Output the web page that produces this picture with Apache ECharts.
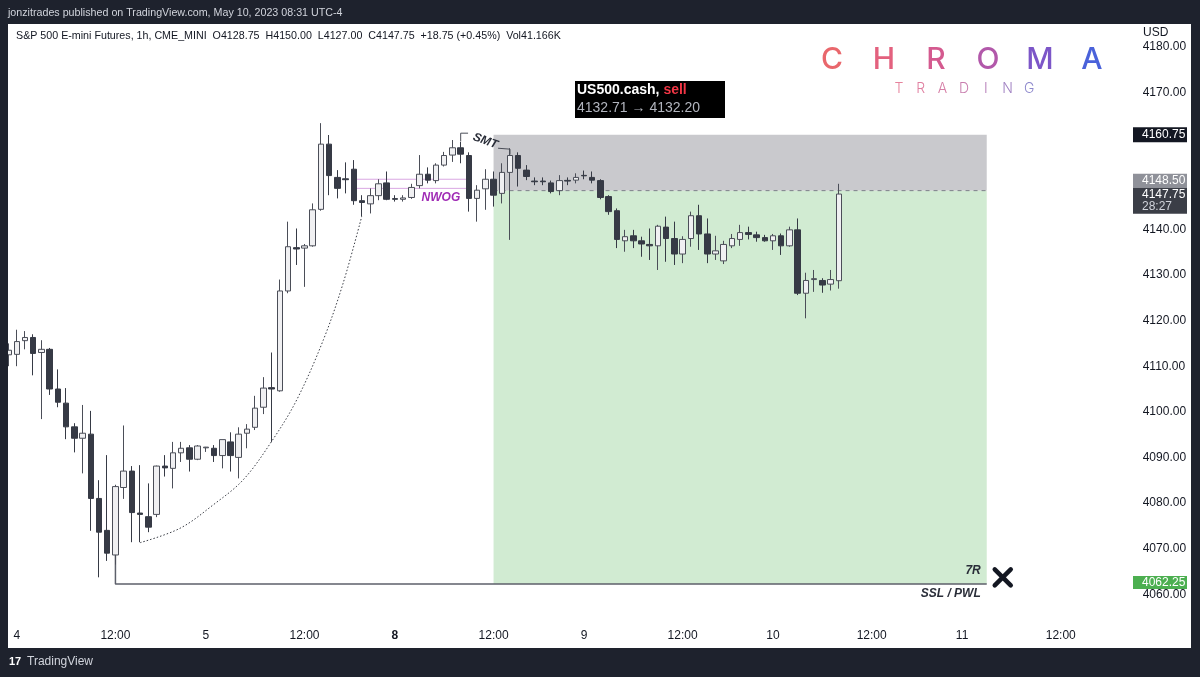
<!DOCTYPE html>
<html><head><meta charset="utf-8">
<script src="https://cdn.jsdelivr.net/npm/echarts@6/dist/echarts.min.js"></script>
<style>html,body{margin:0;padding:0;background:#1e222d;}#c{width:1200px;height:677px;}</style>
</head><body><div id="c"></div>
<script>
// ---- data (bar index = hourly trading bar counted from May 4 00:00) ----
const barIndex = [-1,0,1,2,3,4,5,6,7,8,9,10,11,12,13,14,15,16,17,18,19,20,21,22,23,24,25,26,27,28,29,30,31,32,33,34,35,36,37,38,39,40,41,42,43,44,45,46,47,48,49,50,51,52,53,54,55,56,57,58,59,60,61,62,63,64,65,66,67,68,69,70,71,72,73,74,75,76,77,78,79,80,81,82,83,84,85,86,87,88,89,90,91,92,93,94,95,96,97,98,99,100];
const opens  = [4112.5,4112.6,4115.6,4116.3,4113.0,4113.7,4105.0,4101.9,4096.7,4094.2,4095.1,4081.0,4074.0,4068.6,4083.4,4087.0,4077.8,4077.0,4077.5,4088.1,4087.6,4091.0,4092.1,4089.6,4092.1,4092.0,4090.4,4093.4,4090.0,4095.3,4096.6,4101.0,4105.3,4104.6,4126.5,4136.0,4135.9,4136.4,4144.4,4158.7,4151.4,4151.1,4153.2,4146.3,4145.6,4147.4,4150.2,4146.75,4146.6,4147.0,4149.6,4152.1,4150.7,4154.1,4156.3,4157.9,4156.2,4146.8,4148.9,4151.0,4147.9,4152.5,4156.2,4153.0,4150.6,4150.6,4150.2,4148.5,4150.75,4150.8,4151.85,4151.4,4150.7,4147.2,4144.1,4137.5,4138.6,4137.5,4136.7,4136.4,4140.5,4138.0,4134.6,4138.0,4143.0,4139.0,4134.6,4133.1,4136.4,4137.8,4139.3,4138.8,4138.2,4137.5,4138.6,4136.4,4139.9,4126.0,4129.0,4128.8,4128.0,4128.75];
const closes = [4113.5,4115.4,4116.3,4112.8,4113.7,4105.0,4102.1,4096.7,4094.2,4095.3,4081.0,4073.6,4069.0,4083.6,4087.0,4077.9,4077.5,4074.7,4088.1,4087.7,4091.0,4092.0,4089.6,4092.5,4092.25,4090.4,4093.9,4090.4,4095.1,4096.2,4100.8,4105.2,4105.0,4126.5,4136.2,4135.7,4136.4,4144.3,4158.7,4151.8,4149.0,4150.9,4146.3,4145.9,4147.4,4150.0,4146.6,4146.6,4146.9,4149.2,4152.1,4150.8,4154.1,4156.2,4157.9,4156.5,4146.8,4148.6,4151.0,4147.5,4152.5,4156.2,4153.4,4151.6,4150.45,4150.45,4148.3,4150.7,4150.6,4151.4,4151.75,4150.8,4147.0,4143.9,4137.8,4138.4,4137.5,4136.8,4136.4,4140.7,4138.0,4134.6,4137.8,4143.0,4139.0,4134.6,4135.3,4136.7,4138.0,4139.3,4138.9,4138.2,4137.5,4138.6,4136.4,4139.9,4126.0,4128.8,4129.2,4127.8,4129.0,4147.75];
const lows   = [4110.0,4110.0,4113.7,4108.0,4098.4,4103.7,4101.0,4094.0,4091.1,4086.5,4073.9,4063.7,4067.3,4066.5,4080.9,4071.4,4071.4,4073.6,4076.9,4085.8,4083.2,4089.0,4086.9,4089.4,4091.2,4089.0,4087.6,4086.9,4085.4,4092.0,4096.0,4099.5,4093.4,4104.4,4126.0,4132.2,4127.4,4136.2,4144.1,4147.5,4146.8,4147.9,4145.4,4142.8,4143.5,4146.4,4146.4,4146.1,4146.1,4146.7,4149.0,4150.1,4150.1,4153.8,4154.8,4154.5,4143.9,4141.7,4144.3,4145.0,4145.7,4137.7,4149.4,4150.8,4149.7,4149.7,4147.9,4147.5,4149.7,4150.1,4151.0,4150.1,4146.6,4143.2,4135.9,4135.1,4135.9,4134.0,4133.3,4131.1,4132.9,4132.2,4132.6,4136.2,4135.5,4132.6,4133.3,4132.4,4135.9,4136.4,4137.8,4137.3,4137.3,4135.5,4134.4,4136.2,4125.6,4120.5,4126.3,4126.1,4126.6,4127.0];
const highs  = [4115.0,4118.0,4117.7,4117.0,4115.7,4114.0,4109.3,4105.2,4097.5,4101.5,4100.2,4085.0,4090.5,4084.0,4097.0,4088.1,4088.3,4084.3,4088.2,4090.5,4093.4,4093.4,4092.7,4092.7,4092.3,4092.7,4093.9,4095.5,4096.6,4097.3,4103.5,4107.6,4113.0,4129.0,4141.7,4140.2,4136.8,4145.7,4163.3,4160.7,4153.0,4154.7,4155.2,4147.5,4149.0,4151.0,4152.7,4147.5,4147.5,4150.0,4156.3,4153.6,4154.5,4157.0,4159.6,4159.2,4156.9,4149.7,4153.2,4152.7,4154.5,4157.8,4156.9,4154.1,4151.4,4151.4,4150.7,4151.9,4151.4,4152.3,4152.9,4152.7,4151.0,4147.5,4144.6,4139.9,4139.9,4138.4,4140.2,4141.0,4142.8,4141.7,4138.5,4143.9,4145.4,4142.4,4138.6,4137.5,4139.0,4141.0,4140.6,4139.5,4138.8,4139.0,4139.1,4140.6,4142.4,4130.5,4131.1,4129.3,4131.1,4150.0];

// time axis ticks
const timeTickIdx    = [0, 12, 23, 35, 46, 58, 69, 81, 92, 104, 115, 127];
const timeTickLabels = ['4','12:00','5','12:00','8','12:00','9','12:00','10','12:00','11','12:00'];
const boldTicks = ['8'];
// price axis ticks (4150 / 4160 are hidden behind the price tags)
const priceTicks = [4060,4070,4080,4090,4100,4110,4120,4130,4140,4170,4180];

// position tool (short)
const zoneStart = 58, zoneEnd = 118;
const stopPrice = 4160.75, entryPrice = 4148.50, targetPrice = 4062.25;
const lastPrice = 4147.75;
// SSL / PWL line
const sslStartIdx = 12, sslAnchorPrice = 4068.6;
// NWOG lines
const nwogStart = 41, nwogEnd = 55;
const nwogPrices = [4151.0, 4149.0];
// SMT brackets
const smtLeft  = [[54, 4159.3], [54, 4161.1], [54.9, 4161.1]];
const smtRight = [[58.55, 4157.8], [60, 4157.6], [60, 4156.4]];
// dotted curve
const curveX = [15, 19.85, 23.9, 27.55, 31, 34.05, 37.3, 39.7, 41.96];
const curveY = [4071.3, 4074.45, 4079.6, 4085.1, 4093.5, 4102.6, 4115.8, 4128.2, 4142.8];

// ---- chart ----
const FONT = '"Liberation Sans", Arial, Helvetica, sans-serif';
const INK = '#131722';
const chart = echarts.init(document.getElementById('c'));

const candleData = barIndex.map((k, i) => [k, opens[i], closes[i], lows[i], highs[i]]);
const tickMap = {};
timeTickIdx.forEach((k, i) => { tickMap[k] = timeTickLabels[i]; });

function lineSeries(data, style, z) {
  return { type: 'line', data: data, symbol: 'none', silent: true, z: z || 4, lineStyle: style, animation: false };
}

const option = {
  backgroundColor: '#1e222d',
  animation: false,
  grid: { left: 7.76, right: 65.3, top: 24.2, bottom: 60 },
  xAxis: {
    type: 'value', min: -1.1, max: 136,
    axisLine: { show: false }, axisTick: { show: false }, splitLine: { show: false },
    axisLabel: {
      customValues: timeTickIdx, margin: 13, color: INK, fontSize: 12, fontFamily: FONT,
      formatter: v => { const t = tickMap[v]; return boldTicks.indexOf(t) >= 0 ? '{b|' + t + '}' : t; },
      rich: { b: { fontWeight: 'bold', fontSize: 12, color: INK, fontFamily: FONT } }
    }
  },
  yAxis: {
    type: 'value', position: 'right', min: 4055, max: 4185,
    axisLine: { show: false }, axisTick: { show: false }, splitLine: { show: false },
    axisLabel: {
      customValues: priceTicks, margin: 8, fontSize: 12, fontFamily: FONT,
      color: v => (v === 4180 ? '#a3a6af' : INK),
      formatter: v => v.toFixed(2)
    }
  },
  series: [
    {
      type: 'line', data: [[zoneStart, entryPrice]], symbol: 'none', silent: true, z: 1,
      lineStyle: { opacity: 0 },
      markArea: {
        silent: true,
        data: [
          [{ coord: [zoneStart, stopPrice], itemStyle: { color: '#c9c9cd', opacity: 1 } }, { coord: [zoneEnd, entryPrice] }],
          [{ coord: [zoneStart, entryPrice], itemStyle: { color: '#d1ebd2', opacity: 1 } }, { coord: [zoneEnd, targetPrice] }]
        ]
      }
    },
    lineSeries([[zoneStart, entryPrice], [zoneEnd, entryPrice]], { color: '#7c7f88', width: 1, type: [4, 4] }, 2),
    lineSeries([[sslStartIdx, sslAnchorPrice], [sslStartIdx, targetPrice], [zoneEnd, targetPrice]], { color: '#5d606b', width: 1.5 }, 2),
    lineSeries([[nwogStart, nwogPrices[0]], [nwogEnd, nwogPrices[0]]], { color: '#d9a6e2', width: 1 }, 2),
    lineSeries([[nwogStart, nwogPrices[1]], [nwogEnd, nwogPrices[1]]], { color: '#d9a6e2', width: 1 }, 2),
    {
      type: 'candlestick', data: candleData, encode: { x: 0, y: [1, 2, 3, 4] }, barWidth: 6, z: 3, silent: true,
      itemStyle: { color: '#f0f0f2', color0: '#363a45', borderColor: '#4b4e58', borderColor0: '#363a45', borderWidth: 1 }
    },
    lineSeries(smtLeft, { color: '#4b4e58', width: 1 }, 4),
    lineSeries(smtRight, { color: '#4b4e58', width: 1 }, 4),
    Object.assign(lineSeries(curveX.map((x, i) => [x, curveY[i]]), { color: '#3a3d45', width: 1, type: [1.5, 2] }, 4), { smooth: 0.35 })
  ]
};
chart.setOption(option);

function px(k, p) { return chart.convertToPixel({ gridIndex: 0 }, [k, p]); }
const g = [];
// panels
g.push({ type: 'rect', z: -10, silent: true, shape: { x: 8, y: 24, width: 1183, height: 624 }, style: { fill: '#ffffff' } });
g.push({ type: 'rect', z: 100, silent: true, shape: { x: 0, y: 24, width: 8, height: 624 }, style: { fill: '#1e222d' } });
function txt(x, y, text, font, fill, align, extra) {
  return Object.assign({ type: 'text', z: 101, silent: true, x: x, y: y,
    style: { text: text, font: font, fill: fill, align: align || 'left', textAlign: align || 'left', verticalAlign: 'middle', textVerticalAlign: 'middle' } }, extra || {});
}
// header texts
g.push(txt(8, 13, 'jonzitrades published on TradingView.com, May 10, 2023 08:31 UTC-4', '10.7px ' + FONT, '#d1d4dc'));
g.push(txt(16, 36, 'S&P 500 E-mini Futures, 1h, CME_MINI  O4128.75  H4150.00  L4127.00  C4147.75  +18.75 (+0.45%)  Vol41.166K', '10.7px ' + FONT, INK));
// bottom logo
g.push(txt(9, 662, '17', 'bold 11px ' + FONT, '#ffffff'));
g.push(txt(27, 662, 'TradingView', '12px ' + FONT, '#d1d4dc'));
// CHROMA logo
const chromaLetters = ['C','H','R','O','M','A'];
const chromaColors = ['#e9676c','#e3617e','#d45a8f','#b258aa','#7c56c8','#4a62da'];
chromaLetters.forEach((c, i) => g.push(txt(832 + 52 * i, 60, c, '500 30px Inter, ' + FONT, chromaColors[i], 'center')));
const tradingLetters = ['T','R','A','D','I','N','G'];
const tradingColors = ['#e6829c','#e07fa0','#d67ea6','#c87dae','#b67eb8','#a081c2','#8c87cc'];
tradingLetters.forEach((c, i) => g.push(txt(899 + 21.7 * i, 89, c, '300 14px Inter, ' + FONT, tradingColors[i], 'center')));
// US500 box
g.push({ type: 'rect', z: 100, silent: true, shape: { x: 575, y: 81, width: 150, height: 37 }, style: { fill: '#000000' } });
g.push({ type: 'text', z: 101, silent: true, x: 577, y: 90,
  style: { text: '{a|US500.cash, }{b|sell}', verticalAlign: 'middle', textVerticalAlign: 'middle',
    rich: { a: { fill: '#ffffff', font: 'bold 14px "Liberation Sans Narrow", ' + FONT },
            b: { fill: '#f23645', font: 'bold 14px "Liberation Sans Narrow", ' + FONT } } } });
g.push(txt(577, 108, '4132.71 \u2192 4132.20', '14px ' + FONT, '#b2b5be'));
// price scale extras
g.push(txt(1143, 33, 'USD', '12px ' + FONT, INK));
const ax = 1133, aw = 54;
const yStop = px(0, stopPrice)[1], yEntry = px(0, entryPrice)[1], yTarget = px(0, targetPrice)[1];
g.push({ type: 'rect', z: 100, silent: true, shape: { x: ax, y: yStop - 7.5, width: aw, height: 15 }, style: { fill: '#131722' } });
g.push(txt(1142, yStop, stopPrice.toFixed(2), '12px ' + FONT, '#ffffff'));
g.push({ type: 'rect', z: 100, silent: true, shape: { x: ax, y: yEntry - 17, width: aw, height: 14 }, style: { fill: '#8f9199' } });
g.push(txt(1142, yEntry - 10, entryPrice.toFixed(2), '12px ' + FONT, '#ffffff'));
g.push({ type: 'rect', z: 100, silent: true, shape: { x: ax, y: yEntry - 3, width: aw, height: 26 }, style: { fill: '#3b3e47' } });
g.push(txt(1142, yEntry + 4, lastPrice.toFixed(2), '12px ' + FONT, '#ffffff'));
g.push(txt(1142, yEntry + 16, '28:27', '12px ' + FONT, '#d1d4dc'));
g.push({ type: 'rect', z: 100, silent: true, shape: { x: ax, y: yTarget - 8, width: aw, height: 13 }, style: { fill: '#4caf50' } });
g.push(txt(1142, yTarget - 1.5, targetPrice.toFixed(2), '12px ' + FONT, '#ffffff'));
// annotations
const pEnd = px(zoneEnd, targetPrice);
g.push(txt(pEnd[0] - 6, pEnd[1] - 13, '7R', 'italic bold 12px ' + FONT, '#2a2e39', 'right'));
g.push(txt(pEnd[0] - 6, pEnd[1] + 10, 'SSL / PWL', 'italic bold 12px ' + FONT, '#2a2e39', 'right'));
const cx = pEnd[0] + 16, cy = pEnd[1] - 6.5;
g.push({ type: 'line', z: 101, silent: true, shape: { x1: cx - 8, y1: cy - 8, x2: cx + 8, y2: cy + 8 }, style: { stroke: '#131722', lineWidth: 4.5, lineCap: 'round' } });
g.push({ type: 'line', z: 101, silent: true, shape: { x1: cx + 8, y1: cy - 8, x2: cx - 8, y2: cy + 8 }, style: { stroke: '#131722', lineWidth: 4.5, lineCap: 'round' } });
const pN = px(51.6, 4146.9);
g.push(txt(pN[0], pN[1], 'NWOG', 'italic bold 12px ' + FONT, '#a02cb5', 'center'));
const pS = px(57, 4159.4);
g.push(txt(pS[0], pS[1], 'SMT', 'italic bold 12px ' + FONT, '#2a2e39', 'center', { rotation: -0.35 }));
chart.setOption({ graphic: g });
</script></body></html>
